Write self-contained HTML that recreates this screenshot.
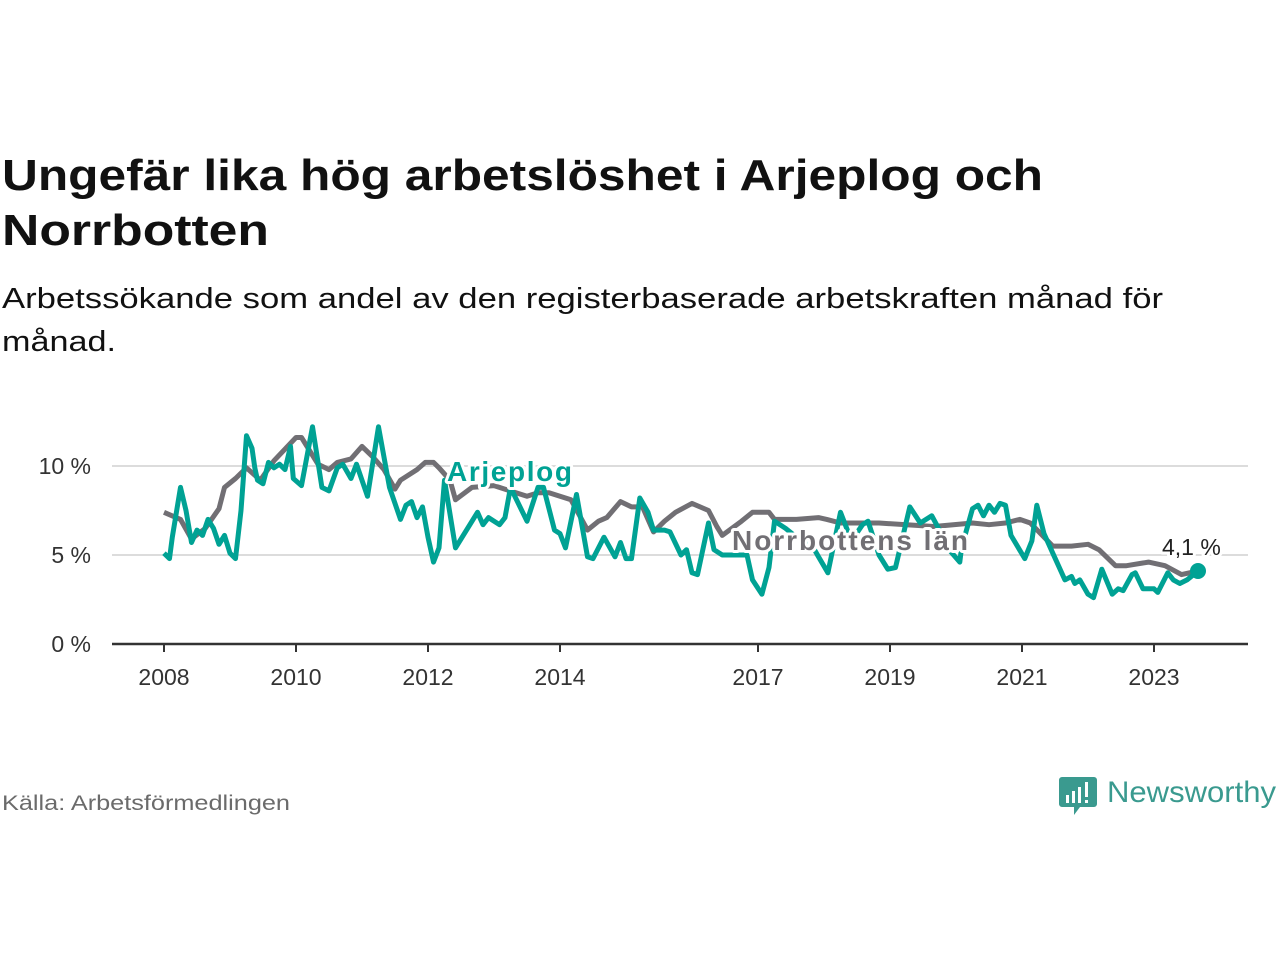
<!DOCTYPE html>
<html><head><meta charset="utf-8"><style>
html,body{margin:0;padding:0;background:#fff;width:1280px;height:960px;overflow:hidden}
svg{display:block;font-family:"Liberation Sans","DejaVu Sans",sans-serif}
</style></head><body>
<svg id="chart" width="1280" height="960" viewBox="0 0 1280 960">
<text x="2" y="190" font-size="44" font-weight="bold" fill="#111" textLength="1041" lengthAdjust="spacingAndGlyphs">Ungefär lika hög arbetslöshet i Arjeplog och</text>
<text x="2" y="245" font-size="44" font-weight="bold" fill="#111" textLength="267" lengthAdjust="spacingAndGlyphs">Norrbotten</text>
<text x="2" y="308" font-size="29" fill="#111" textLength="1161" lengthAdjust="spacingAndGlyphs">Arbetssökande som andel av den registerbaserade arbetskraften månad för</text>
<text x="2" y="351" font-size="29" fill="#111" textLength="114" lengthAdjust="spacingAndGlyphs">månad.</text>
<g id="grid"></g><g id="axes"></g><g id="lines"></g><g id="labels"></g>
<text x="2" y="810" font-size="21" fill="#6b6b6b" textLength="288" lengthAdjust="spacingAndGlyphs">Källa: Arbetsförmedlingen</text>
<g>
<path d="M1062,777 h32 a3,3 0 0 1 3,3 v24 a3,3 0 0 1 -3,3 h-14 l-6,8 v-8 h-12 a3,3 0 0 1 -3,-3 v-24 a3,3 0 0 1 3,-3z" fill="#3a9a8f"/>
<rect x="1066" y="795" width="3" height="8" fill="#fff"/><rect x="1072" y="791" width="3" height="12" fill="#fff"/><rect x="1078" y="787" width="3" height="16" fill="#fff"/><rect x="1085" y="782" width="3" height="15" fill="#fff"/><rect x="1085" y="800" width="3" height="3" fill="#fff"/>
<text x="1107" y="802" font-size="30" fill="#3a9a8f" textLength="169" lengthAdjust="spacingAndGlyphs">Newsworthy</text>
</g>
</svg>
<script>
// months since Jan 2008
const norrMonths=[0,3,5,7.5,10,11,13,15,17.5,20,24,25,28,30,31.5,34,36,38,40,42,43,46,47.5,49,50,52,53,56,60,64,66,68,70,74,77,79,80.5,83,85,87,89,91,93,96,99,100.5,101.5,105,107,110,111,115,119,120.5,123,130,140,147,150,153,155.6,157.5,161.6,165,168,170,173,175,179,182,185,188];
const norrValues=[7.4,7.0,5.9,6.5,7.6,8.8,9.3,9.9,9.2,10.3,11.6,11.6,10.1,9.8,10.2,10.4,11.1,10.5,9.8,8.7,9.2,9.8,10.2,10.2,9.9,9.2,8.1,8.8,8.9,8.5,8.3,8.5,8.5,8.1,6.4,6.9,7.1,8.0,7.7,7.7,6.3,6.9,7.4,7.9,7.5,6.6,6.1,6.9,7.4,7.4,7.0,7.0,7.1,7.0,6.8,6.8,6.6,6.8,6.7,6.8,7.0,6.8,5.5,5.5,5.6,5.3,4.4,4.4,4.6,4.4,3.9,4.1];
const arjMonths=[0,1,1.5,3,4,5,6,7,8,9,10,11,12,13,14,15,16,16.5,17,18,19,20,21,22,23,23.5,25,27,28.7,30,31.5,32.5,34,35,37,39,41,43,44,45,46,47,48,49,50,51,53,57,58,59,61,62,63,66,68,69,71,72,73,75,77,78,80,82,83,84,85,86.5,88,89,91,92,94,95,96,97,99,100,101.5,103,106,107,108.7,110,111,113,115,117.5,119,120.7,123,125,127,128,130,131.6,133,135.6,137.5,139.6,141,143,144.7,145,147,148,149,150,151,152,153,154,156.5,157.8,158.7,160,161.6,163.8,165,165.6,166.5,168,169,170.5,172.4,173.5,174.4,176,176.6,178,180,180.7,182.5,183.5,184.7,186,188];
const arjValues=[5.1,4.8,6.0,8.8,7.5,5.7,6.4,6.1,7.0,6.5,5.6,6.1,5.1,4.8,7.5,11.7,11.0,9.9,9.2,9.0,10.2,9.9,10.1,9.8,11.1,9.3,8.9,12.2,8.8,8.6,9.9,10.1,9.3,10.1,8.3,12.2,8.8,7.0,7.8,8.0,7.1,7.7,6.0,4.6,5.4,9.2,5.4,7.4,6.7,7.1,6.7,7.1,8.8,6.9,8.8,8.8,6.4,6.2,5.4,8.4,4.9,4.8,6.0,4.9,5.7,4.8,4.8,8.2,7.4,6.4,6.4,6.3,5.0,5.3,4.0,3.9,6.8,5.3,5.0,5.0,5.0,3.6,2.8,4.3,6.9,6.5,6.0,5.7,4.9,4.0,7.4,5.8,6.7,6.9,5.0,4.2,4.3,7.7,6.8,7.2,6.4,5.2,4.6,5.4,7.6,7.8,7.2,7.8,7.4,7.9,7.8,6.1,4.8,5.8,7.8,6.2,5.1,3.6,3.8,3.4,3.6,2.8,2.6,4.2,2.8,3.1,3.0,3.9,4.0,3.1,3.1,2.9,4.0,3.6,3.4,3.6,4.1];
const yTicks=[0,5,10];
const yTickLabels=["0 %","5 %","10 %"];
const xTickYears=[2008,2010,2012,2014,2017,2019,2021,2023];
const lastLabel="4,1 %";

const NS="http://www.w3.org/2000/svg";
const X=m=>164+m*5.5;
const Y=v=>644-v*17.8;
function mk(tag,attrs,parent,text){const e=document.createElementNS(NS,tag);for(const k in attrs)e.setAttribute(k,attrs[k]);if(text!==undefined)e.textContent=text;parent.appendChild(e);return e;}
const grid=document.getElementById('grid'),axes=document.getElementById('axes'),lines=document.getElementById('lines'),labels=document.getElementById('labels');
yTicks.forEach((t,i)=>{
  if(t>0){const g=mk('line',{x1:112,x2:1248,y1:Y(t),y2:Y(t),stroke:'#dcdcdc','stroke-width':2},grid);
  
  }
  const tl=mk('text',{x:91,y:Y(t)+8,'font-size':23,fill:'#333','text-anchor':'end'},axes,yTickLabels[i]);
  
  
});
const ax=mk('line',{x1:112,x2:1248,y1:644,y2:644,stroke:'#333','stroke-width':2.5},axes);


xTickYears.forEach(yr=>{
  const x=X((yr-2008)*12);
  const tk=mk('line',{x1:x,x2:x,y1:644,y2:652,stroke:'#333','stroke-width':2},axes);
  
  
  const tl=mk('text',{x:x,y:685,'font-size':23,fill:'#333','text-anchor':'middle'},axes,String(yr));
  
  
});
function path(ms,vs){return ms.map((m,i)=>(i?'L':'M')+X(m).toFixed(1)+','+Y(vs[i]).toFixed(1)).join('');}
const pn=mk('path',{d:path(norrMonths,norrValues),fill:'none',stroke:'#716f74','stroke-width':5,'stroke-linejoin':'round'},lines);


const pa=mk('path',{d:path(arjMonths,arjValues),fill:'none',stroke:'#00a294','stroke-width':5,'stroke-linejoin':'round'},lines);


const lm=arjMonths[arjMonths.length-1],lv=arjValues[arjValues.length-1];
const dot=mk('circle',{cx:X(lm),cy:Y(lv),r:8,fill:'#00a294'},lines);


function halo(txt,x,y,fill,name,size,bold){
  const t=mk('text',{x:x,y:y,'font-size':size,'font-weight':bold?'bold':'normal',fill:fill,stroke:'#fff','stroke-width':6,'paint-order':'stroke','stroke-linejoin':'round'},labels,txt);
  
  
  return t;
}
halo('Arjeplog',447,481,'#00a294','arjeplog-label',28,true).setAttribute('textLength','125');
halo('Norrbottens län',732,550,'#716f74','norrbotten-label',28,true).setAttribute('textLength','236');
halo(lastLabel,1162,555,'#222','last-value-label',23,false);
</script>
</body></html>
